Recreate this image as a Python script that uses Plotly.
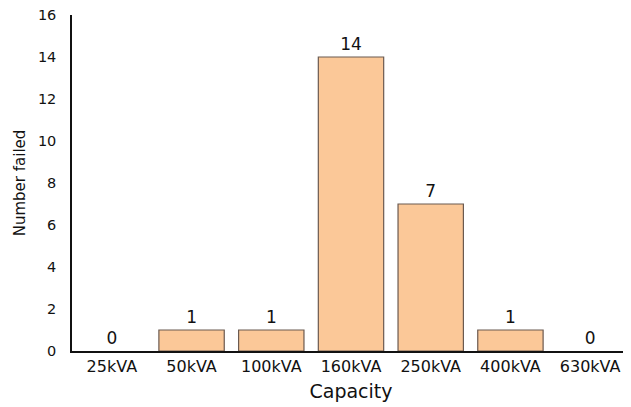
import plotly.graph_objects as go

categories = ["25kVA", "50kVA", "100kVA", "160kVA", "250kVA", "400kVA", "630kVA"]
failed = [0, 1, 1, 14, 7, 1, 0]
y_ticks = [0, 2, 4, 6, 8, 10, 12, 14, 16]

fig = go.Figure(go.Bar(
    x=categories, y=failed,
    text=[str(v) for v in failed], textposition="outside",
    textfont=dict(size=17, color="#111111", family="DejaVu Sans"),
    cliponaxis=False,
    marker=dict(color="#FBC898",
                line=dict(color="#6b5a50",
                          width=[1.2 if v > 0 else 0 for v in failed])),
))
fig.update_layout(
    width=623, height=399,
    margin=dict(l=64, r=1, t=7, b=56),
    paper_bgcolor="white", plot_bgcolor="white",
    font=dict(family="DejaVu Sans, Liberation Sans, Arial, sans-serif", color="#111111"),
    bargap=0.18, showlegend=False,
    xaxis=dict(title=dict(text="Capacity", font=dict(size=19), standoff=10),
               showline=True, linecolor="#111111", linewidth=1.5,
               ticks="", tickfont=dict(size=16), showgrid=False,
               automargin=False),
    yaxis=dict(title=dict(text="Number failed", font=dict(size=15), standoff=9),
               range=[0, 16], tickvals=y_ticks, showline=True,
               linecolor="#111111", linewidth=1.5, ticks="",
               ticklabelstandoff=11, ticklabeloverflow="allow",
               tickfont=dict(size=14.5), showgrid=False, zeroline=False,
               automargin=False),
)
fig.write_html("out.html")
